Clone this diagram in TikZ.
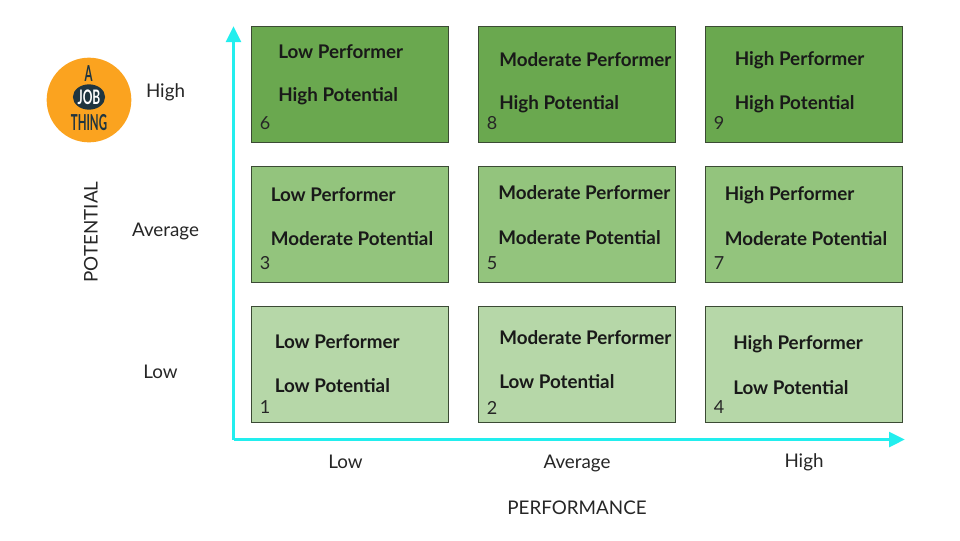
\documentclass[tikz,border=0pt]{standalone}
\usepackage{fontspec}
\setmainfont{Lato}
\usepackage{tikz}
\usetikzlibrary{arrows.meta, shapes.geometric}
\definecolor{darkcell}{HTML}{6AA84F}
\definecolor{midcell}{HTML}{93C47D}
\definecolor{lightcell}{HTML}{B6D7A8}
\definecolor{cellline}{HTML}{3B4A34}
\definecolor{axiscolor}{HTML}{22EEEE}
\definecolor{logoorange}{HTML}{FBA31F}
\definecolor{logoink}{HTML}{1F3540}
\tikzset{
	cell/.style={draw=cellline, line width=0.75pt, minimum width=148pt, minimum height=87pt, inner sep=0pt, anchor=north west},
	title/.style={anchor=west, inner sep=0pt, yshift=-0.75pt, font=\fontsize{14.1}{16}\selectfont\bfseries, text=black!90},
	num/.style={inner sep=0pt, font=\fontsize{13.5}{16}\selectfont, text=black!85},
	axislabel/.style={inner sep=0pt, font=\fontsize{14.1}{16}\selectfont, text=black!85},
	axisline/.style={axiscolor, line width=2.6pt, -{Triangle[length=12pt,width=11pt]}},
	logotext/.style={inner sep=0pt, text=logoink, font=\fontsize{11}{12}\selectfont\bfseries}
}
\begin{document}
\begin{tikzpicture}[x=0.75pt,y=-0.75pt]
	\useasboundingbox (0,0) rectangle (960,540);
	
	%%% logo
	\node[circle, fill=logoorange, minimum size=63.5pt, inner sep=0pt] (logo) at (89,100) {};
	\node[logotext] (logoA) at (88.5,74) {\scalebox{.78}[1.5]{A}};
	\node[ellipse, fill=logoink, minimum width=21pt, minimum height=19pt, inner sep=0pt, text=white, font=\fontsize{10}{12}\selectfont\bfseries] (logoJob) at (89,97) {\scalebox{.9}[1.5]{JOB}};
	\node[logotext] (logoThing) at (89,123) {\scalebox{.78}[1.5]{THING}};
	
	%%% top row
	\node[cell, fill=darkcell] (cell6) at (250.5,25.5) {};
	\node[title] (cell6a) at (278,51) {Low Performer};
	\node[title] (cell6b) at (278,95.5) {High Potential};
	\node[num] (num6) at (265,123) {6};
	
	\node[cell, fill=darkcell] (cell8) at (477.5,25.5) {};
	\node[title] (cell8a) at (499,59) {Moderate Performer};
	\node[title] (cell8b) at (499,103.5) {High Potential};
	\node[num] (num8) at (492,123) {8};
	
	\node[cell, fill=darkcell] (cell9) at (704.5,25.5) {};
	\node[title] (cell9a) at (734.5,59) {High Performer};
	\node[title] (cell9b) at (734.5,103.5) {High Potential};
	\node[num] (num9) at (719,123) {9};
	
	%%% middle row
	\node[cell, fill=midcell] (cell3) at (250.5,165.5) {};
	\node[title] (cell3a) at (270.5,194) {Low Performer};
	\node[title] (cell3b) at (270.5,238) {Moderate Potential};
	\node[num] (num3) at (265,263) {3};
	
	\node[cell, fill=midcell] (cell5) at (477.5,165.5) {};
	\node[title] (cell5a) at (498,192) {Moderate Performer};
	\node[title] (cell5b) at (498,237) {Moderate Potential};
	\node[num] (num5) at (492,263) {5};
	
	\node[cell, fill=midcell] (cell7) at (704.5,165.5) {};
	\node[title] (cell7a) at (724.5,194) {High Performer};
	\node[title] (cell7b) at (724.5,238) {Moderate Potential};
	\node[num] (num7) at (719,263) {7};
	
	%%% bottom row
	\node[cell, fill=lightcell] (cell1) at (250.5,306) {};
	\node[title] (cell1a) at (274.5,341) {Low Performer};
	\node[title] (cell1b) at (274.5,385) {Low Potential};
	\node[num] (num1) at (265,407.5) {1};
	
	\node[cell, fill=lightcell] (cell2) at (477.5,306) {};
	\node[title] (cell2a) at (499,337) {Moderate Performer};
	\node[title] (cell2b) at (499,381) {Low Potential};
	\node[num] (num2) at (492,407.5) {2};
	
	\node[cell, fill=lightcell] (cell4) at (704.5,306) {};
	\node[title] (cell4a) at (733,343) {High Performer};
	\node[title] (cell4b) at (733,387) {Low Potential};
	\node[num] (num4) at (719,407.5) {4};
	
	%%% axes
	\coordinate (origin) at (233.5,439.5);
	\coordinate (topend) at (233.5,26);
	\coordinate (rightend) at (905,439.5);
	\draw[axisline] (origin) -- (topend);
	\draw[axisline] (origin) -- (rightend);
	
	%%% axis labels
	\node[axislabel] (yhigh) at (165.5,92.5) {High};
	\node[axislabel] (yavg) at (165.5,231) {Average};
	\node[axislabel] (ylow) at (160.5,372) {Low};
	\node[axislabel, rotate=90] (ytitle) at (91,232) {POTENTIAL};
	\node[axislabel] (xlow) at (345.5,462) {Low};
	\node[axislabel] (xavg) at (577,463) {Average};
	\node[axislabel] (xhigh) at (804,462.5) {High};
	\node[axislabel] (xtitle) at (577,508) {PERFORMANCE};
	
\end{tikzpicture}
\end{document}
